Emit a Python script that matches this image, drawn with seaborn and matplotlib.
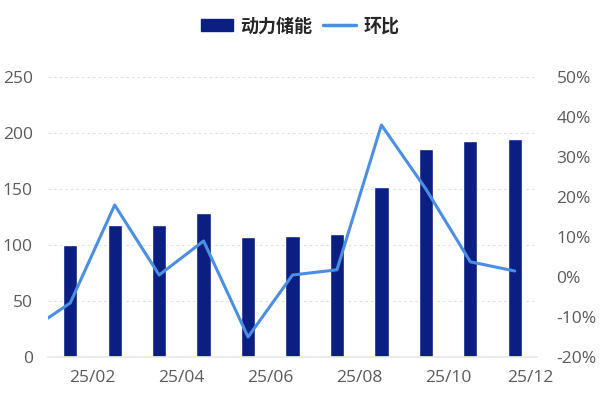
import numpy as np
import pandas as pd
import matplotlib
matplotlib.use('Agg')
import matplotlib.pyplot as plt
import seaborn as sns
from matplotlib.patches import Patch
from matplotlib.lines import Line2D

# data
months = ['25/01', '25/02', '25/03', '25/04', '25/05', '25/06',
          '25/07', '25/08', '25/09', '25/10', '25/11']
storage = [100, 118, 118, 129, 107, 108, 110, 152, 186, 193, 195]
# month-on-month change (%), first value is 24/12 and is clipped at the left edge
mom_months = ['24/12'] + months
mom = [-14, -6.5, 18, 0.5, 9, -15, 0.5, 1.8, 38, 22, 3.8, 1.5]
tick_labels = ['25/02', '25/04', '25/06', '25/08', '25/10', '25/12']

bar_color = '#0b1f82'
line_color = '#4a8fe3'
text_color = '#5a5a5a'

sns.set_theme(style='white')
plt.rcParams['font.family'] = ['Open Sans', 'Noto Sans CJK SC', 'DejaVu Sans']

df = pd.DataFrame({'month': months, 'storage': storage})
df_line = pd.DataFrame({'x': np.arange(-1, len(months)), 'mom': mom})

fig = plt.figure(figsize=(6, 4), dpi=100)
ax = fig.add_axes([0.08, 0.1075, 0.815, 0.70])

sns.barplot(data=df, x='month', y='storage', color=bar_color, width=0.32,
            saturation=1, ax=ax)
ax.set_ylim(0, 250)
ax.set_yticks([0, 50, 100, 150, 200, 250])
ax.yaxis.grid(True, linestyle=(0, (2.5, 2.5)), color='#e0e0e0', linewidth=0.8)
ax.set_axisbelow(True)
ax.set_xlim(-0.5, len(months) - 0.5)
ax.set_xticks([0.5, 2.5, 4.5, 6.5, 8.5, 10.35])
ax.set_xticklabels(tick_labels)
ax.set_xlabel('')
ax.set_ylabel('')
for s in ['left', 'right', 'top']:
    ax.spines[s].set_visible(False)
ax.spines['bottom'].set_color('#e8e8e8')
ax.tick_params(axis='both', length=0, labelsize=12.5, colors=text_color)
ax.tick_params(axis='x', pad=9)
ax.tick_params(axis='y', pad=11)

ax2 = ax.twinx()
sns.lineplot(data=df_line, x='x', y='mom', color=line_color, linewidth=2.2,
             ax=ax2)
ax2.set_ylim(-20, 50)
ax2.set_yticks(range(-20, 51, 10))
ax2.set_yticklabels([f'{v}%' for v in range(-20, 51, 10)])
ax2.set_xlim(-0.5, len(months) - 0.5)
ax2.set_ylabel('')
for s in ['left', 'right', 'top', 'bottom']:
    ax2.spines[s].set_visible(False)
ax2.tick_params(axis='y', length=0, labelsize=12.5, colors=text_color, pad=14)

handles = [Patch(facecolor=bar_color, edgecolor=bar_color),
           Line2D([0], [0], color=line_color, linewidth=2.5)]
fig.legend(handles, ['动力储能', '环比'], loc='center', bbox_to_anchor=(0.5, 0.935),
           ncol=2, frameon=False, handlelength=1.8, handleheight=0.6,
           columnspacing=0.6, handletextpad=0.4,
           prop={'family': ['Noto Sans CJK SC', 'DejaVu Sans'],
                 'weight': 'bold', 'size': 13})

fig.savefig('out.png', dpi=100)
